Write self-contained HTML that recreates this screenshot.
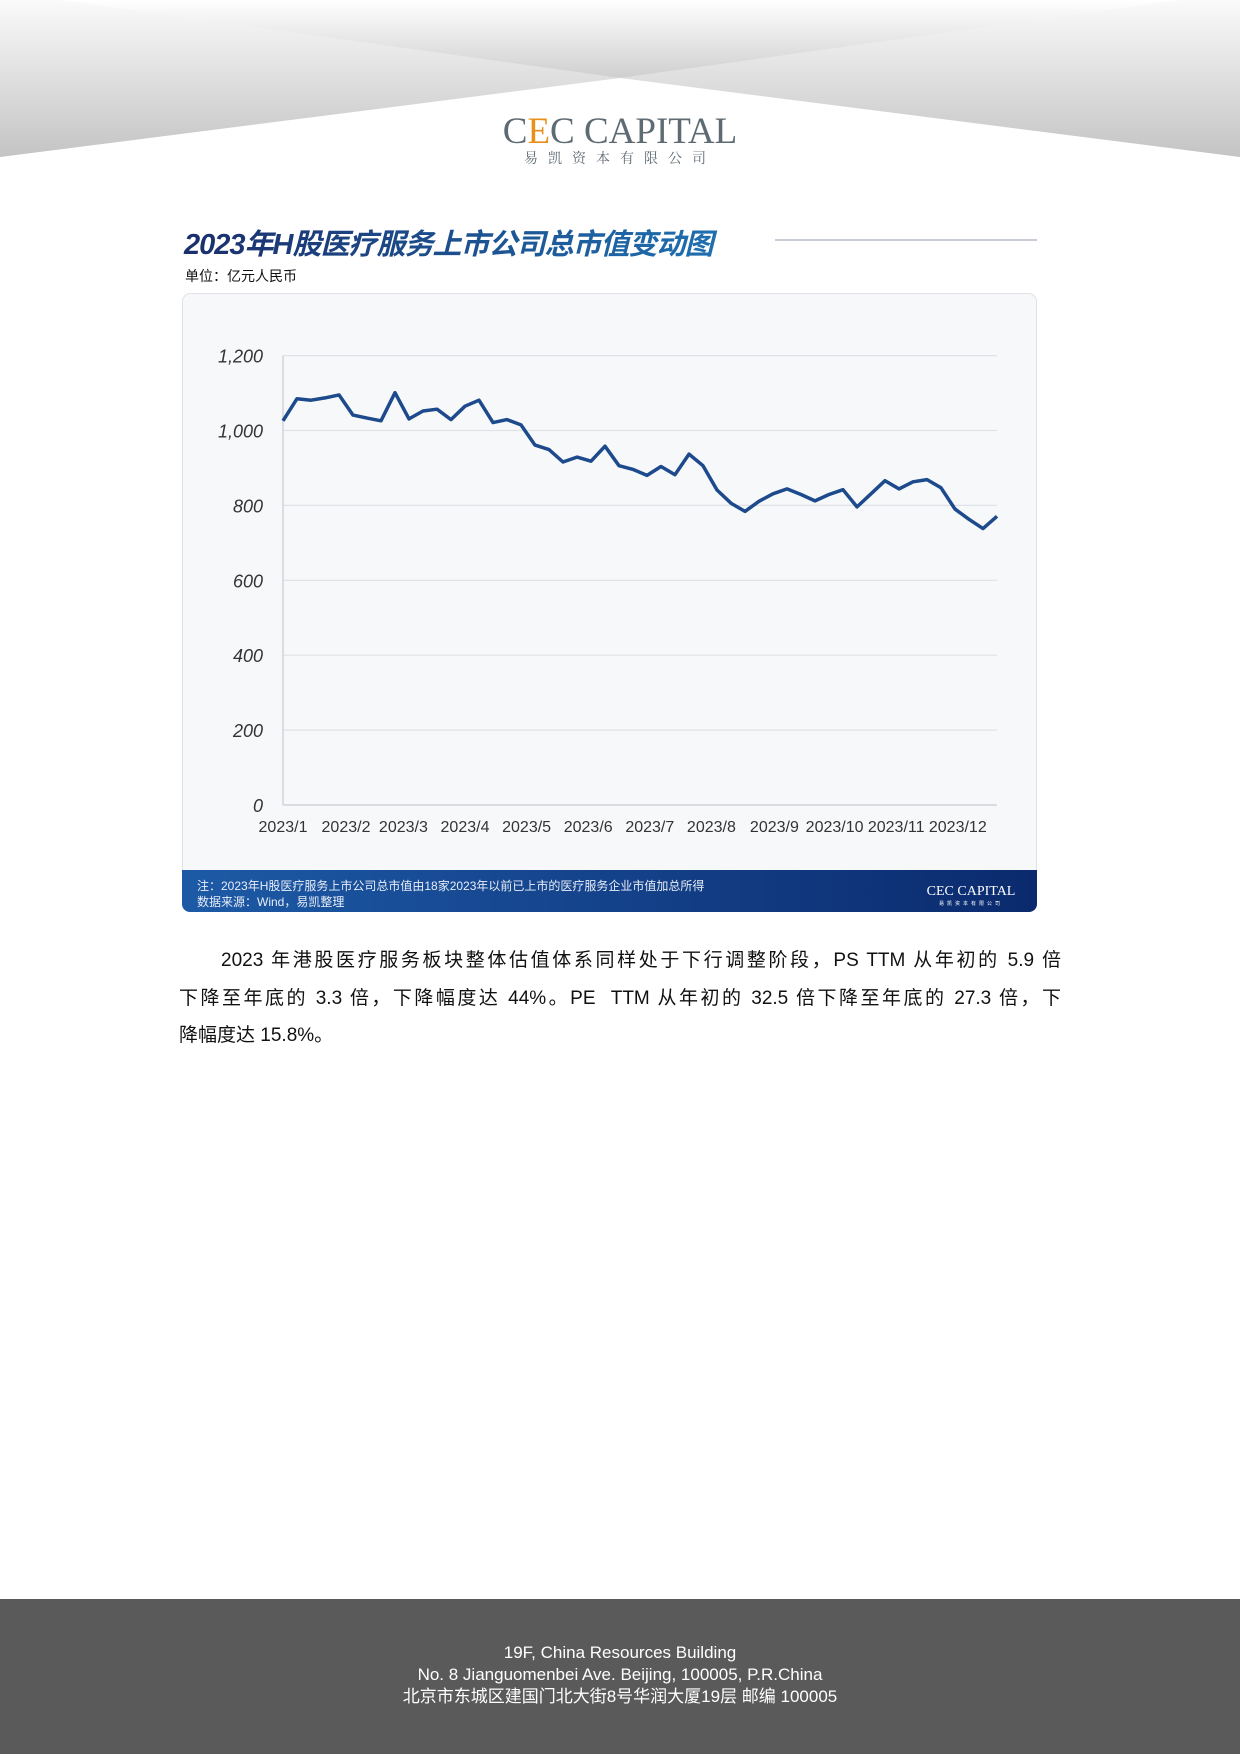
<!DOCTYPE html>
<html><head><meta charset="utf-8">
<style>
html,body{margin:0;padding:0;background:#fff}
body{width:1240px;height:1754px;position:relative;overflow:hidden;font-family:"Liberation Sans","Noto Sans CJK SC",sans-serif}
.para{position:absolute;left:179px;top:942px;width:882px;font-size:19px;line-height:37.5px;color:#111;font-family:"Liberation Sans","Noto Sans CJK SC",sans-serif}
.para div{text-align:justify;text-align-last:justify;white-space:nowrap}
.para div.last{text-align-last:left}
.footer{position:absolute;left:0;top:1599px;width:1240px;height:155px;background:#5a5a5a;color:#fff;text-align:center;font-size:17px;line-height:22px}
</style></head><body>
<svg width="1240" height="180" style="position:absolute;left:0;top:0">
<defs>
<linearGradient id="hg" x1="0" y1="0" x2="0" y2="1"><stop offset="0" stop-color="#fafafa"/><stop offset="1" stop-color="#c4c4c4"/></linearGradient>
<linearGradient id="tg" x1="0" y1="0" x2="0" y2="1"><stop offset="0" stop-color="#ffffff"/><stop offset="1" stop-color="#cfcfcf"/></linearGradient>
</defs>
<rect x="0" y="0" width="1240" height="157" fill="url(#hg)"/>
<polygon points="60,0 1180,0 620,78" fill="url(#tg)"/>
<polygon points="0,157 620,78 1240,157 1240,180 0,180" fill="#fff"/>
<text x="620" y="143" text-anchor="middle" font-family="Liberation Serif,serif" font-size="37" fill="#5f6b73">C<tspan fill="#e8901a">E</tspan>C CAPITAL</text>
<text x="620" y="163" text-anchor="middle" font-family="Noto Serif CJK SC,serif" font-size="14" letter-spacing="10" fill="#5f6b73">易凯资本有限公司</text>
</svg>

<svg id="chart" width="1240" height="940" style="position:absolute;left:0;top:0">
<defs>
<linearGradient id="tt" x1="0" y1="0" x2="1" y2="0"><stop offset="0" stop-color="#1a2f6b"/><stop offset="1" stop-color="#1f6fb0"/></linearGradient>
<linearGradient id="bb" x1="0" y1="0" x2="1" y2="0"><stop offset="0" stop-color="#1d5aa6"/><stop offset="1" stop-color="#0b2a6e"/></linearGradient>
</defs>
<text x="184" y="254" font-family="Liberation Sans,Noto Sans CJK SC,sans-serif" font-size="29" font-weight="bold" font-style="italic" fill="url(#tt)" letter-spacing="-1">2023年H股医疗服务上市公司总市值变动图</text>
<line x1="775" y1="240" x2="1037" y2="240" stroke="#c8ccd4" stroke-width="2"/>
<text x="185" y="281" font-size="14" fill="#111" font-family="Liberation Sans,Noto Sans CJK SC,sans-serif">单位：亿元人民币</text>
<rect x="182.5" y="293.5" width="854" height="618" rx="8" fill="#f7f8fa" stroke="#e0e2e6"/>
<path d="M182,870 H1037 V904 a8,8 0 0 1 -8,8 H190 a8,8 0 0 1 -8,-8 Z" fill="url(#bb)"/>
<text x="197" y="890" font-size="12" fill="#e8eef8">注：2023年H股医疗服务上市公司总市值由18家2023年以前已上市的医疗服务企业市值加总所得</text>
<text x="197" y="906" font-size="12" fill="#e8eef8">数据来源：Wind，易凯整理</text>
<text x="971" y="895" text-anchor="middle" font-family="Liberation Serif,serif" font-size="14" fill="#fff">CEC CAPITAL</text>
<text x="971" y="905" text-anchor="middle" font-size="5" letter-spacing="3" fill="#fff">易凯资本有限公司</text>
<g id="grid"></g><g id="axes"></g><g id="series"></g>
</svg>

<div class="para">
<div style="padding-left:42px">2023 年港股医疗服务板块整体估值体系同样处于下行调整阶段，PS TTM 从年初的 5.9 倍</div>
<div>下降至年底的 3.3 倍，下降幅度达 44%。PE&nbsp; TTM 从年初的 32.5 倍下降至年底的 27.3 倍，下</div>
<div class="last">降幅度达 15.8%。</div>
</div>

<div class="footer">
<div style="height:43px"></div>
<div>19F, China Resources Building</div>
<div>No. 8 Jianguomenbei Ave. Beijing, 100005, P.R.China</div>
<div>北京市东城区建国门北大街8号华润大厦19层 邮编 100005</div>
</div>

<script>
const values=[1026,1085,1081,1087,1095,1041,1033,1026,1101,1031,1052,1057,1029,1065,1081,1021,1029,1015,961,949,916,929,918,958,906,896,880,904,882,937,906,841,806,784,811,831,844,829,812,829,842,796,831,866,844,863,869,847,790,763,738,771];
const yTicks=[0,200,400,600,800,1000,1200];
const yTickLabels=["0","200","400","600","800","1,000","1,200"];
const xLabels=["2023/1","2023/2","2023/3","2023/4","2023/5","2023/6","2023/7","2023/8","2023/9","2023/10","2023/11","2023/12"];
const xLabelIdx=[0,4.5,8.6,13,17.4,21.8,26.2,30.6,35.1,39.4,43.8,48.2];

const X0=283,X1=997,Y0=805,Y1=355.6,YMAX=1200;
const NS="http://www.w3.org/2000/svg";
function xs(i){return X0+(X1-X0)*i/(values.length-1);}
function ys(v){return Y0-(Y0-Y1)*v/YMAX;}
function mk(tag,attrs,parent){const e=document.createElementNS(NS,tag);for(const k in attrs)e.setAttribute(k,attrs[k]);parent.appendChild(e);return e;}
const grid=document.getElementById('grid'),axes=document.getElementById('axes'),series=document.getElementById('series');
yTicks.forEach((t,i)=>{
  const l=mk('line',{x1:X0,x2:X1,y1:ys(t),y2:ys(t),stroke:t===0?'#c8ccd2':'#dfe2e6','stroke-width':1.2},grid);
  
  
  const tx=mk('text',{x:263,y:ys(t)+7,'text-anchor':'end','font-size':18,'font-style':'italic',fill:'#333'},axes);
  tx.textContent=yTickLabels[i];
  
  
});
const ya=mk('line',{x1:X0,x2:X0,y1:Y1,y2:Y0,stroke:'#c8ccd2','stroke-width':1.2},axes);


xLabels.forEach((s,i)=>{
  const tx=mk('text',{x:xs(xLabelIdx[i]),y:832,'text-anchor':'middle','font-size':16,fill:'#333'},axes);
  tx.textContent=s;
  
  
});
const d=values.map((v,i)=>(i?'L':'M')+xs(i).toFixed(1)+','+ys(v).toFixed(1)).join(' ');
const p=mk('path',{d:d,fill:'none',stroke:'#1d4a8c','stroke-width':3.5,'stroke-linejoin':'round'},series);


</script>
</body></html>
